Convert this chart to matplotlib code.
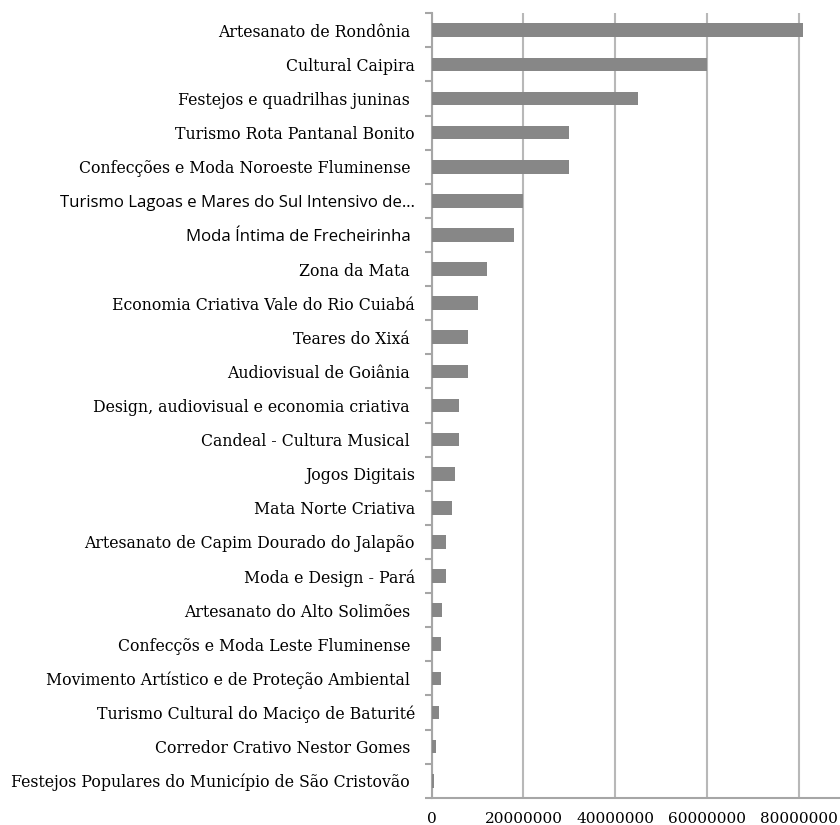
import numpy as np
import matplotlib.pyplot as plt

# categories, top to bottom
categories = [
    "Artesanato de Rondônia ",
    "Cultural Caipira",
    "Festejos e quadrilhas juninas ",
    "Turismo Rota Pantanal Bonito",
    "Confecções e Moda Noroeste Fluminense ",
    "Turismo Lagoas e Mares do Sul Intensivo de…",
    "Moda Íntima de Frecheirinha ",
    "Zona da Mata ",
    "Economia Criativa Vale do Rio Cuiabá",
    "Teares do Xixá ",
    "Audiovisual de Goiânia ",
    "Design, audiovisual e economia criativa ",
    "Candeal - Cultura Musical ",
    "Jogos Digitais",
    "Mata Norte Criativa",
    "Artesanato de Capim Dourado do Jalapão",
    "Moda e Design - Pará",
    "Artesanato do Alto Solimões ",
    "Confecçõs e Moda Leste Fluminense ",
    "Movimento Artístico e de Proteção Ambiental ",
    "Turismo Cultural do Maciço de Baturité",
    "Corredor Crativo Nestor Gomes ",
    "Festejos Populares do Município de São Cristovão ",
]
values = [81000000, 60000000, 45000000, 30000000, 30000000, 20000000, 18000000,
          12000000, 10000000, 8000000, 8000000, 6000000, 6000000, 5000000,
          4500000, 3000000, 3000000, 2300000, 2000000, 2000000, 1500000,
          1000000, 500000]
sans_labels = {5, 6}
xticks = [0, 20000000, 40000000, 60000000, 80000000]

fig = plt.figure(figsize=(8.4, 8.25), dpi=100)
ax = fig.add_axes([0.514, 0.033, 0.486, 0.951])

n = len(categories)
ypos = np.arange(n)
ax.barh(ypos, values, height=0.4, color='#878787', zorder=3)

ax.set_ylim(n - 0.5, -0.5)
ax.set_xlim(0, 89000000)

ax.set_xticks(xticks)
ax.set_xticklabels([str(v) for v in xticks], family='DejaVu Serif', fontsize=11)
ax.tick_params(axis='x', length=0, pad=10)
ax.grid(axis='x', color='#b8b8b8', linewidth=1.5, zorder=0)

ax.set_yticks(ypos)
ax.set_yticklabels(categories)
for i, lab in enumerate(ax.get_yticklabels()):
    if i in sans_labels:
        lab.set_family('Open Sans')
        lab.set_fontsize(12.1)
    else:
        lab.set_family('DejaVu Serif')
        lab.set_fontsize(11.35)
ax.tick_params(axis='y', length=0, pad=12)
ax.set_yticks(np.arange(n + 1) - 0.5, minor=True)
ax.tick_params(axis='y', which='minor', length=5, width=1.5, color='#a6a6a6')

for s in ['top', 'right']:
    ax.spines[s].set_visible(False)
for s in ['left', 'bottom']:
    ax.spines[s].set_color('#a6a6a6')
    ax.spines[s].set_linewidth(1.5)

fig.savefig('out.png', dpi=100)
